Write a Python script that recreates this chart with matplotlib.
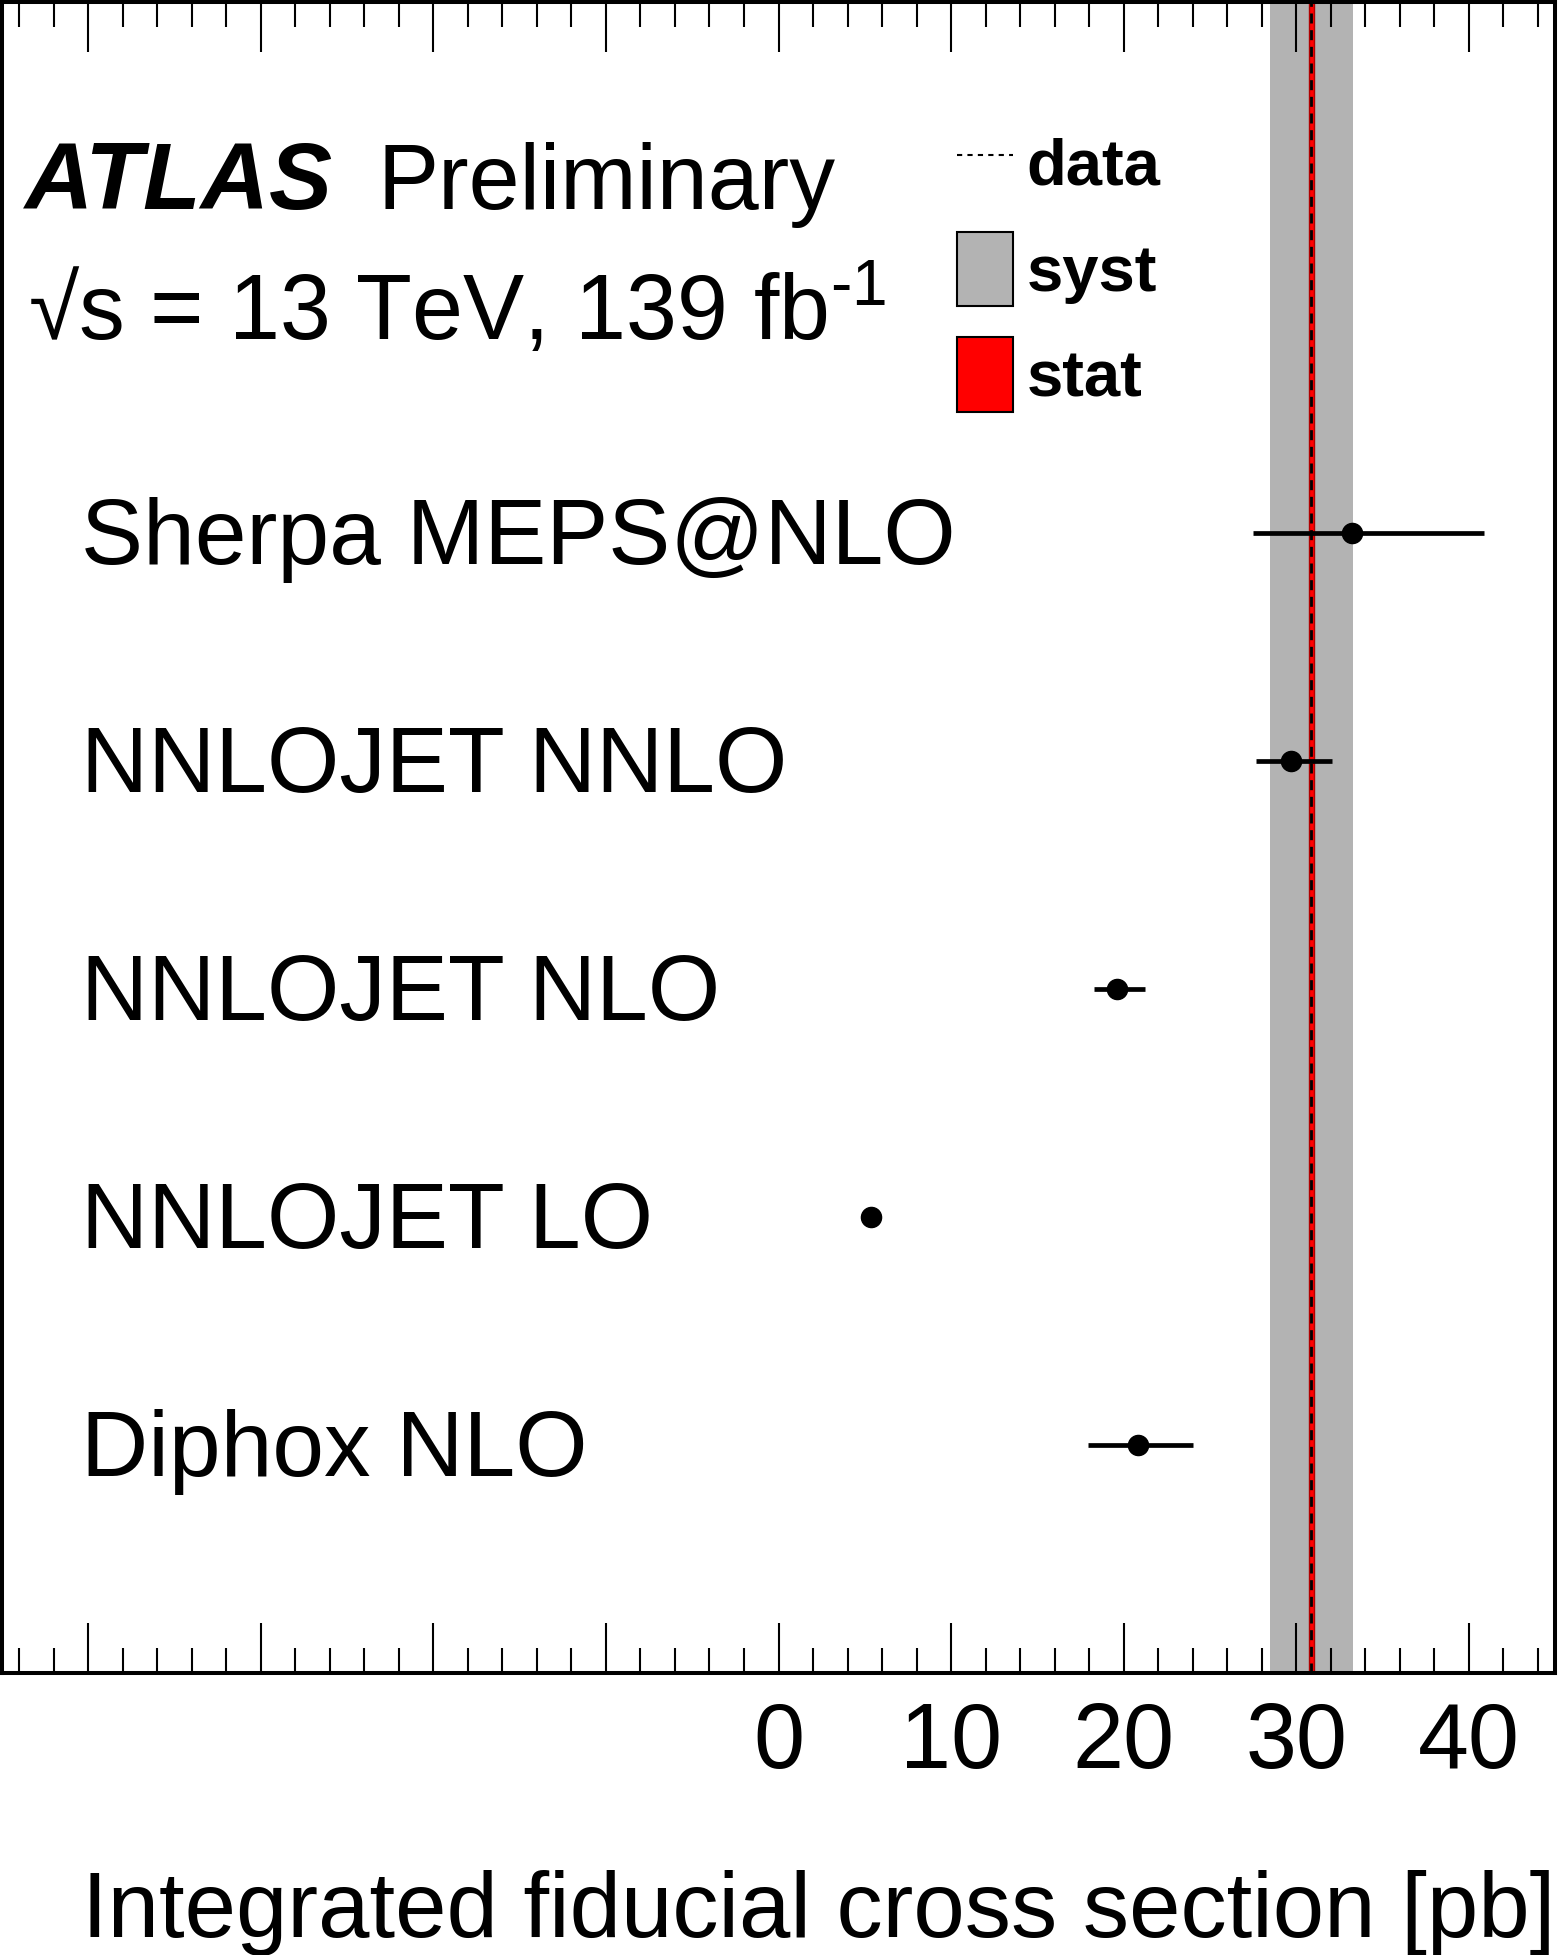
import numpy as np
import matplotlib
matplotlib.use('Agg')
import matplotlib.pyplot as plt
from matplotlib.lines import Line2D
from matplotlib.patches import Patch
from matplotlib.ticker import MultipleLocator, FuncFormatter

plt.rcParams['font.family'] = ['Liberation Sans', 'DejaVu Sans']
plt.rcParams['mathtext.fontset'] = 'custom'
plt.rcParams['mathtext.rm'] = 'Liberation Sans'
plt.rcParams['mathtext.it'] = 'Liberation Sans:italic'

# predictions (pb)
labels = ['Sherpa MEPS@NLO', 'NNLOJET NNLO', 'NNLOJET NLO', 'NNLOJET LO', 'Diphox NLO']
values = [33.22, 29.71, 19.63, 5.34, 20.82]
err_lo = [5.71, 2.01, 1.32, 0.0, 2.89]
err_hi = [7.69, 2.39, 1.60, 0.0, 3.18]

# measurement
data_value = 30.87
stat_err = 0.15
syst_lo = 2.37
syst_hi = 2.45

rows = np.arange(len(labels), 0, -1)

fig = plt.figure(figsize=(15.58, 19.55), dpi=100)
ax = fig.add_axes([2/1558, 282/1955, 1553/1558, 1671/1955])

ax.axvspan(data_value - syst_lo, data_value + syst_hi, color='#b3b3b3', lw=0, zorder=0)
ax.axvspan(data_value - stat_err, data_value + stat_err, facecolor='red',
           edgecolor='#b00000', lw=1.0, zorder=1)
ax.axvline(data_value, color='black', lw=2.0, ls=(0, (3.6, 2.4)), zorder=2)

ax.errorbar(values, rows, xerr=[err_lo, err_hi], fmt='o', color='black',
            ms=14.5, elinewidth=3.4, capsize=0, zorder=3)

for lab, r in zip(labels, rows):
    ax.text(0.051, r - 0.03, lab, transform=ax.get_yaxis_transform(), fontsize=67,
            ha='left', va='center')

ax.set_xlim(-45, 45)
ax.set_ylim(0, 7.33)
ax.set_yticks([])
ax.xaxis.set_major_locator(MultipleLocator(10))
ax.xaxis.set_minor_locator(MultipleLocator(2))
ax.xaxis.set_major_formatter(FuncFormatter(lambda v, p: f'{v:.0f}' if v >= 0 else ''))
ax.tick_params(axis='x', which='both', direction='in', top=True, bottom=True,
               width=1.5, labelsize=66, pad=20)
ax.tick_params(axis='x', which='major', length=36)
ax.tick_params(axis='x', which='minor', length=18)
for sp in ax.spines.values():
    sp.set_linewidth(2.9)
    sp.set_zorder(5)

ax.set_xlabel('Integrated fiducial cross section [pb]', fontsize=66.5, loc='right', labelpad=60)

ax.text(0.0148, 0.876, 'ATLAS', transform=ax.transAxes, fontsize=68,
        fontweight='bold', fontstyle='italic', ha='left', va='baseline')
ax.text(0.242, 0.876, 'Preliminary', transform=ax.transAxes, fontsize=66,
        ha='left', va='baseline')
ax.text(0.0165, 0.798, '\u221as = 13 TeV, 139 fb$^{\\mathrm{\u20101}}$',
        transform=ax.transAxes, fontsize=66, ha='left', va='baseline')

handles = [
    Line2D([0], [0], color='black', lw=1.5, ls=(0, (2.5, 2.5))),
    Patch(facecolor='#b3b3b3', edgecolor='black', lw=1.5),
    Patch(facecolor='red', edgecolor='black', lw=1.5),
]
ax.legend(handles, ['data', 'syst', 'stat'], loc='upper left', bbox_to_anchor=(0.615, 0.926),
          frameon=False, borderpad=0, borderaxespad=0, handlelength=0.86, handleheight=1.38,
          handletextpad=0.2, labelspacing=0.48, prop={'size': 47, 'weight': 'bold'})

fig.savefig('out.png', dpi=100)
